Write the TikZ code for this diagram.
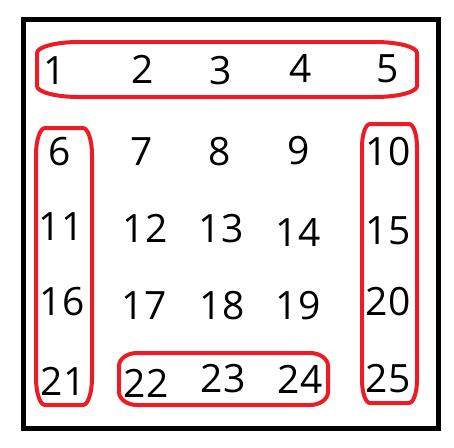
\documentclass[tikz,border=0pt]{standalone}
\usepackage{fontspec}
\setmainfont{Open Sans}
\definecolor{paintred}{RGB}{237,28,36}
\begin{document}
\begin{tikzpicture}[x=1pt,y=-1pt,
  num/.style={inner sep=0pt,font=\fontsize{39}{40}\selectfont},
  grp/.style={draw=paintred,line width=4pt,line join=round},
  frame/.style={draw=black,line width=5pt}]
\useasboundingbox (0,0) rectangle (454,447);
\newcommand{\redoval}[6]{%
 \draw[grp] ({#1+#5},#2) -- ({#3-#5},#2)
  .. controls ({#3-0.45*#5},#2) and (#3,{#2+0.45*#6}) .. (#3,{#2+#6})
  -- (#3,{#4-#6})
  .. controls (#3,{#4-0.45*#6}) and ({#3-0.45*#5},#4) .. ({#3-#5},#4)
  -- ({#1+#5},#4)
  .. controls ({#1+0.45*#5},#4) and (#1,{#4-0.45*#6}) .. (#1,{#4-#6})
  -- (#1,{#2+#6})
  .. controls (#1,{#2+0.45*#6}) and ({#1+0.45*#5},#2) .. cycle;}
\draw[frame] (23.5,19.5) rectangle (438.5,428.5);
\foreach \n/\x/\y in {1/55/71,2/143/69,3/221/71,4/301/69,5/388/69,
  6/60/152,7/142/152,8/220/152,9/299/151,10/388/152,
  11/61/227,12/145/228,13/221/229,14/298/232,15/388/231,
  16/62/302,17/144/306,18/222/306,19/298/306,20/388/302,
  21/63/381,22/146/383,23/223/379,24/300/379,25/388/379}
  \node[num] (n\n) at (\x,\y) {\n};
\redoval{37}{42}{417}{97}{42}{11}
\redoval{36}{128}{92}{405}{9}{27}
\redoval{362}{124}{417}{403}{8}{23}
\redoval{119}{353}{328}{405}{18}{13}
\end{tikzpicture}
\end{document}
